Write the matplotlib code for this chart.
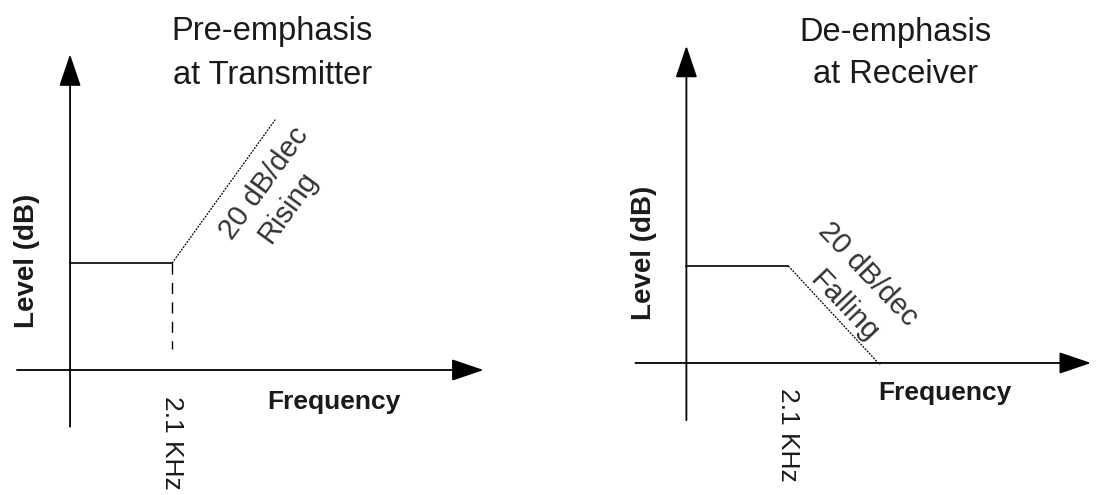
import matplotlib.pyplot as plt

plt.rcParams['font.family'] = ['Liberation Sans', 'DejaVu Sans']

# normalised frequency (1 = 2.1 kHz corner) and relative level
flat_freq = [0, 1]
flat_level = [1, 1]
pre_rise_freq = [1, 2.01]
pre_rise_level = [1, 2.34]
pre_marker_freq = [1, 1]
pre_marker_level = [1, 0.2]
de_fall_freq = [1, 1.90]
de_fall_level = [1, -0.02]

titles = [('Pre-emphasis', 'at Transmitter'), ('De-emphasis', 'at Receiver')]
slope_labels = [('20 dB/dec', 'Rising'), ('20 dB/dec', 'Falling')]
corner_label = '2.1 KHz'

fig = plt.figure(figsize=(10.97, 4.95), dpi=100)
ax1 = fig.add_axes([0, 0, 0.5, 1])
ax2 = fig.add_axes([0.5, 0, 0.5, 1])

# limits chosen so the two sketches sit where they do in the picture
ax1.set_xlim(-0.686, 4.686)
ax1.set_ylim(-1.168, 3.458)
ax2.set_xlim(-1.353, 4.029)
ax2.set_ylim(-1.361, 3.742)

arrow = dict(arrowstyle='-|>,head_length=1.0,head_width=0.34', color='black',
             lw=1.3, mutation_scale=20, shrinkA=0, shrinkB=0)


def draw_axes(ax, ybot, ytop, xleft, xright):
    ax.annotate('', xy=(0, ytop), xytext=(0, ybot), arrowprops=arrow)
    ax.annotate('', xy=(xright, 0), xytext=(xleft, 0), arrowprops=arrow)
    ax.axis('off')


draw_axes(ax1, -0.53, 2.95, -0.52, 4.05)
draw_axes(ax2, -0.59, 3.27, -0.5, 3.97)

# pre-emphasis
ax1.plot(flat_freq, flat_level, color='black', lw=1.2)
ax1.plot(pre_rise_freq, pre_rise_level, color='black', lw=0.9, ls=(0, (1.5, 1)))
ax1.plot(pre_marker_freq, pre_marker_level, color='black', lw=1.0, ls=(0, (8, 6)))

# de-emphasis
ax2.plot(flat_freq, flat_level, color='black', lw=1.2)
ax2.plot(de_fall_freq, de_fall_level, color='black', lw=0.9, ls=(0, (1.5, 1)))

txt = '#1a1a1a'
for ax, (t1, t2), (s1, s2), tx, ty, lx, ly, fx, fy, cy, rot, p1, p2 in [
        (ax1, titles[0], slope_labels[0], 1.98, (3.16, 2.757), -0.42, 1.02, 2.58, -0.30, -0.68,
         54, (1.90, 1.75), (2.14, 1.52)),
        (ax2, titles[1], slope_labels[1], 2.05, (3.41, 2.97), -0.42, 1.14, 2.54, -0.31, -0.74,
         -46.5, (1.78, 0.92), (1.55, 0.58))]:
    ax.text(tx, ty[0], t1, fontsize=23.5, ha='center', va='center', color=txt)
    ax.text(tx, ty[1], t2, fontsize=23.5, ha='center', va='center', color=txt)
    ax.text(lx, ly, 'Level (dB)', fontsize=20, fontweight='bold', rotation=90,
            ha='center', va='center', color=txt)
    ax.text(fx, fy, 'Frequency', fontsize=19, fontweight='bold', ha='center',
            va='center', color=txt)
    ax.text(1.0, cy, corner_label, fontsize=19, rotation=-90, ha='center',
            va='center', color=txt)
    ax.text(p1[0], p1[1], s1, fontsize=21, rotation=rot, rotation_mode='anchor',
            ha='center', va='center', color='#333333')
    ax.text(p2[0], p2[1], s2, fontsize=21, rotation=rot, rotation_mode='anchor',
            ha='center', va='center', color='#333333')

fig.savefig('out.png', dpi=100)
